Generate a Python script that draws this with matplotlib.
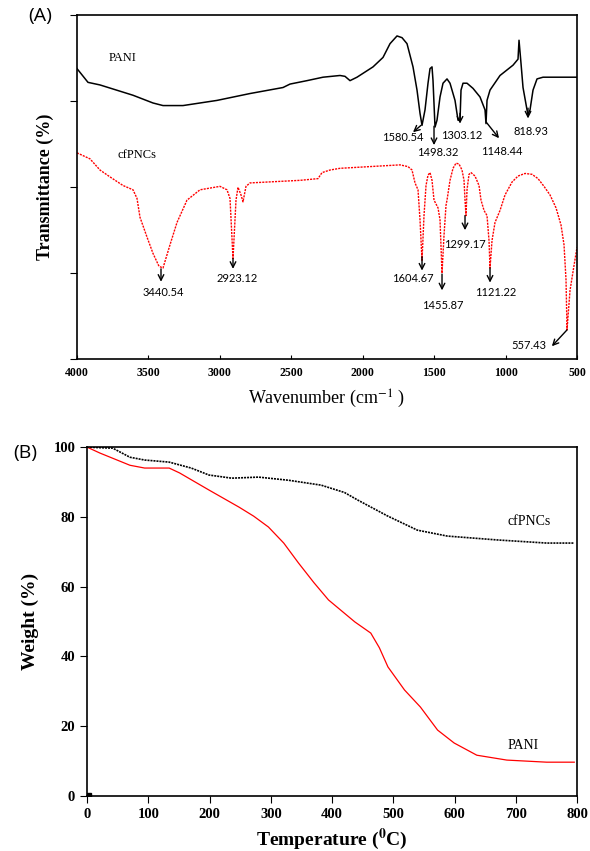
import matplotlib
matplotlib.use("Agg")
import matplotlib.pyplot as plt

plt.rcParams["mathtext.fontset"] = "stix"

# FTIR spectra (wavenumber, relative transmittance, arbitrary units)
pani_wn = [4000, 3923, 3839, 3608, 3468, 3398, 3258, 3020, 2789, 2558, 2509, 2390,
           2278, 2159, 2124, 2089, 2040, 1928, 1858, 1809, 1760, 1725, 1690, 1648,
           1620, 1599, 1585, 1564, 1543, 1529, 1515, 1508, 1494, 1480, 1459, 1438,
           1410, 1389, 1354, 1333, 1319, 1312, 1298, 1270, 1228, 1179, 1144, 1137,
           1130, 1109, 1039, 948, 913, 906, 892, 878, 850, 843, 829, 808, 780, 738,
           640, 500]
pani_tr = [3.38, 3.22, 3.19, 3.07, 2.98, 2.95, 2.95, 3.01, 3.09, 3.16, 3.20, 3.24,
           3.28, 3.30, 3.29, 3.24, 3.28, 3.40, 3.51, 3.67, 3.76, 3.74, 3.67, 3.40,
           3.13, 2.86, 2.72, 2.90, 3.21, 3.38, 3.40, 3.24, 2.70, 2.78, 3.05, 3.21,
           3.26, 3.21, 3.01, 2.78, 2.78, 3.13, 3.21, 3.21, 3.15, 3.05, 2.90, 2.74,
           3.01, 3.13, 3.30, 3.42, 3.49, 3.71, 3.44, 3.16, 2.90, 2.84, 2.90, 3.13,
           3.26, 3.28, 3.28, 3.28]

cf_wn = [4000, 3909, 3839, 3769, 3678, 3608, 3580, 3559, 3510, 3468, 3440, 3426,
         3398, 3349, 3300, 3230, 3139, 2999, 2950, 2929, 2908, 2887, 2873, 2852,
         2838, 2817, 2789, 2439, 2313, 2285, 2229, 2159, 1739, 1683, 1655, 1634,
         1613, 1599, 1585, 1571, 1557, 1543, 1529, 1515, 1501, 1473, 1459, 1445,
         1431, 1417, 1410, 1389, 1368, 1347, 1326, 1305, 1291, 1284, 1277, 1270,
         1256, 1242, 1214, 1186, 1172, 1151, 1130, 1116, 1109, 1095, 1074, 1039,
         1004, 955, 913, 864, 815, 773, 731, 689, 647, 612, 591, 577, 570, 549,
         521, 500]
cf_tr = [2.40, 2.33, 2.20, 2.12, 2.02, 1.97, 1.87, 1.65, 1.42, 1.23, 1.13, 1.08,
         1.06, 1.33, 1.59, 1.85, 1.97, 2.01, 1.97, 1.87, 1.17, 1.85, 2.00, 1.91,
         1.83, 2.01, 2.05, 2.08, 2.10, 2.17, 2.20, 2.22, 2.26, 2.24, 2.20, 2.05,
         1.97, 1.62, 1.15, 1.67, 2.02, 2.14, 2.17, 2.08, 1.85, 1.76, 1.62, 1.00,
         1.44, 1.79, 1.85, 2.08, 2.22, 2.28, 2.27, 2.20, 2.08, 1.85, 1.67, 1.97,
         2.15, 2.17, 2.13, 2.02, 1.85, 1.73, 1.67, 1.38, 1.06, 1.38, 1.59, 1.73,
         1.91, 2.06, 2.13, 2.16, 2.15, 2.10, 2.01, 1.91, 1.76, 1.56, 1.33, 0.92,
         0.34, 0.80, 1.09, 1.30]

# peak labels: text, arrow tail (x, y), arrow head (x, y), text position (x, y)
pani_peaks = [("1580.54", (1592, 2.72), (1648, 2.64), (1718, 2.58)),
              ("1498.32", (1501, 2.71), (1501, 2.49), (1473, 2.40)),
              ("1303.12", (1319, 2.86), (1319, 2.74), (1305, 2.60)),
              ("1148.44", (1137, 2.76), (1046, 2.57), (1025, 2.42)),
              ("818.93", (843, 2.92), (843, 2.80), (822, 2.65))]
cf_peaks = [("3440.54", (3412, 1.05), (3412, 0.90), (3398, 0.77)),
            ("2923.12", (2908, 1.17), (2908, 1.05), (2880, 0.94)),
            ("1604.67", (1585, 1.19), (1585, 1.03), (1648, 0.94)),
            ("1455.87", (1445, 0.99), (1445, 0.80), (1438, 0.62)),
            ("1299.17", (1284, 1.67), (1284, 1.50), (1284, 1.33)),
            ("1121.22", (1109, 1.06), (1109, 0.89), (1067, 0.77)),
            ("557.43", (570, 0.34), (676, 0.15), (836, 0.16))]

# TGA curves
temp_cf = [0, 42, 70, 94, 134, 170, 199, 236, 280, 329, 382, 420, 442, 490, 539,
           588, 669, 750, 795]
wt_cf = [100, 99.7, 97.1, 96.3, 95.7, 94.0, 92.0, 91.1, 91.4, 90.5, 89.1, 87.0,
         84.8, 80.3, 76.2, 74.5, 73.4, 72.5, 72.5]
temp_pani = [0, 21, 70, 94, 118, 134, 151, 199, 248, 272, 296, 321, 345, 370, 394,
             437, 463, 477, 491, 518, 544, 572, 599, 636, 685, 750, 795]
wt_pani = [100, 98.3, 94.8, 94.0, 94.0, 94.0, 92.6, 87.7, 82.8, 80.2, 77.1, 72.5,
           66.8, 61.2, 56.2, 49.9, 46.7, 42.5, 37.0, 30.4, 25.5, 18.9, 15.2, 11.7,
           10.3, 9.7, 9.7]

SERIF = "Liberation Serif"
SANS = "Open Sans"

fig = plt.figure(figsize=(5.9, 8.51), dpi=100)

# ---- (A) FTIR ----
ax1 = fig.add_axes([0.1305, 0.578, 0.8475, 0.404])
ax1.plot(pani_wn, pani_tr, color="black", lw=1.1)
ax1.plot(cf_wn, cf_tr, color="red", lw=1.0, ls=(0, (1.5, 0.8)))
ax1.set_xlim(4000, 500)
ax1.set_ylim(0, 4)
ax1.set_xticks(range(4000, 499, -500))
ax1.set_yticks([0, 1, 2, 3, 4])
ax1.set_yticklabels([])
ax1.tick_params(axis="x", direction="in", length=3, labelsize=8.5, pad=6)
ax1.tick_params(axis="y", direction="out", length=5)
for lbl in ax1.get_xticklabels():
    lbl.set_fontfamily(SERIF)
    lbl.set_fontweight("bold")
for s in ax1.spines.values():
    s.set_linewidth(1.2)
ax1.set_xlabel("Wavenumber (cm$^{-1}$ )", fontfamily=SERIF, fontsize=13, labelpad=6)
ax1.set_ylabel("Transmittance (%)", fontfamily=SERIF, fontsize=13,
               fontweight="bold", labelpad=8)

for peaks in (pani_peaks, cf_peaks):
    for txt, tail, head, pos in peaks:
        ax1.annotate("", xy=head, xytext=tail,
                     arrowprops=dict(arrowstyle="->", color="black", lw=1.0,
                                     shrinkA=0, shrinkB=0))
        ax1.text(pos[0], pos[1], txt, fontfamily="Lato", fontsize=8,
                 ha="center", va="center")

ax1.text(3680, 3.5, "PANI", fontfamily=SERIF, fontsize=9, ha="center", va="center")
ax1.text(3580, 2.37, "cfPNCs", fontfamily=SERIF, fontsize=9, ha="center", va="center")
fig.text(0.068, 0.981, "(A)", fontfamily=SANS, fontsize=14, ha="center", va="center")

# ---- (B) TGA ----
ax2 = fig.add_axes([0.1475, 0.0646, 0.831, 0.41])
ax2.plot(temp_cf, wt_cf, color="black", lw=1.2, ls=(0, (1.2, 0.6)))
ax2.plot(temp_pani, wt_pani, color="red", lw=0.9)
ax2.plot([3], [0.3], marker="s", color="black", ms=2.5)
ax2.set_xlim(0, 800)
ax2.set_ylim(0, 100)
ax2.set_xticks(range(0, 801, 100))
ax2.set_yticks(range(0, 101, 20))
ax2.tick_params(direction="out", length=5, labelsize=10.5)
for lbl in ax2.get_xticklabels() + ax2.get_yticklabels():
    lbl.set_fontfamily(SERIF)
    lbl.set_fontweight("bold")
for s in ax2.spines.values():
    s.set_linewidth(1.2)
ax2.set_xlabel("Temperature ($^{\\mathbf{0}}$C)", fontfamily=SERIF, fontsize=14,
               fontweight="bold", labelpad=4)
ax2.set_ylabel("Weight (%)", fontfamily=SERIF, fontsize=14, fontweight="bold",
               labelpad=10)
ax2.text(722, 78.8, "cfPNCs", fontfamily=SERIF, fontsize=10, ha="center", va="center")
ax2.text(712, 14.6, "PANI", fontfamily=SERIF, fontsize=10, ha="center", va="center")
fig.text(0.042, 0.468, "(B)", fontfamily=SANS, fontsize=14, ha="center", va="center")

fig.savefig("out.png", dpi=100)
